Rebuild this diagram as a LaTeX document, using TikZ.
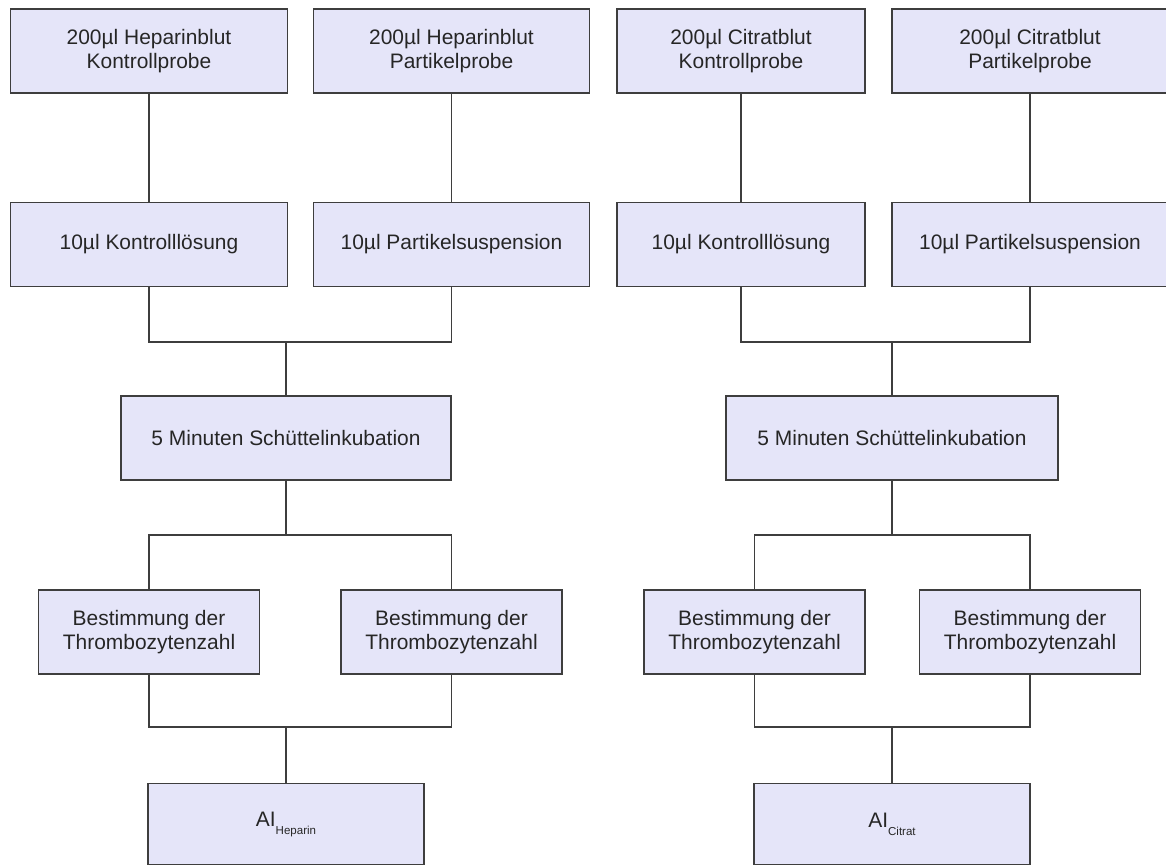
\documentclass[tikz,border=0pt]{standalone}
\usepackage{fontspec}
\setmainfont{Liberation Sans}
\definecolor{boxfill}{RGB}{229,229,249}
\definecolor{boxline}{RGB}{62,62,62}

\begin{document}
\begin{tikzpicture}
    [   x=0.025cm, y=-0.025cm,
        pbox/.style={draw=boxline,fill=boxfill,line width=1.2pt,minimum width=#1,minimum height=2.1cm,
                     inner sep=0pt,align=center,text=black!85,font=\fontsize{14.9}{17.1}\selectfont},
        link/.style={draw=boxline,line width=1.2pt},
    ]
        \useasboundingbox (0,0) rectangle (1166,866);

        % draw the nodes (heparin)
        \node[pbox=6.925cm] (hk) at (149,51.3) {200µl Heparinblut\\Kontrollprobe};
        \node[pbox=6.9cm] (hp) at (451.5,51.3) {200µl Heparinblut\\Partikelprobe};
        \node[pbox=6.925cm] (hkl) at (149,244.5) {10µl Kontrolllösung};
        \node[pbox=6.9cm] (hps) at (451.5,244.5) {10µl Partikelsuspension};
        \node[pbox=8.25cm] (hinc) at (286,438.3) {5 Minuten Schüttelinkubation};
        \node[pbox=5.525cm] (htk) at (149,632) {Bestimmung der\\Thrombozytenzahl};
        \node[pbox=5.525cm] (htp) at (451.5,632) {Bestimmung der\\Thrombozytenzahl};
        \node[pbox=6.9cm,minimum height=2.03cm] (hai) at (286,824) {AI\raisebox{-0.2cm}{\fontsize{8.2}{9}\selectfont Heparin}};

        % draw the nodes (citrat)
        \node[pbox=6.2cm] (ck) at (741,51.3) {200µl Citratblut\\Kontrollprobe};
        \node[pbox=6.9cm] (cp) at (1030,51.3) {200µl Citratblut\\Partikelprobe};
        \node[pbox=6.2cm] (ckl) at (741,244.5) {10µl Kontrolllösung};
        \node[pbox=6.9cm] (cps) at (1030,244.5) {10µl Partikelsuspension};
        \node[pbox=8.3cm] (cinc) at (892,438.3) {5 Minuten Schüttelinkubation};
        \node[pbox=5.525cm] (ctk) at (754.5,632) {Bestimmung der\\Thrombozytenzahl};
        \node[pbox=5.525cm] (ctp) at (1030,632) {Bestimmung der\\Thrombozytenzahl};
        \node[pbox=6.9cm,minimum height=2.03cm] (cai) at (892,824) {AI\raisebox{-0.2cm}{\fontsize{8.2}{9}\selectfont Citrat}};

        % joints
        \coordinate (hj1) at (286,341.7);
        \coordinate (hj2) at (286,535);
        \coordinate (hj3) at (286,727);
        \coordinate (cj1) at (892,341.7);
        \coordinate (cj2) at (892,535);
        \coordinate (cj3) at (892,727);

        % draw the lines
        \draw[link] (hk) -- (hkl);
        \draw[link] (hp) -- (hps);
        \draw[link] (hkl.south) |- (hj1) -| (hps.south);
        \draw[link] (hj1) -- (hinc);
        \draw[link] (htk.north) |- (hj2) -| (htp.north);
        \draw[link] (hinc) -- (hj2);
        \draw[link] (htk.south) |- (hj3) -| (htp.south);
        \draw[link] (hj3) -- (hai);

        \draw[link] (ck) -- (ckl);
        \draw[link] (cp) -- (cps);
        \draw[link] (ckl.south) |- (cj1) -| (cps.south);
        \draw[link] (cj1) -- (cinc);
        \draw[link] (ctk.north) |- (cj2) -| (ctp.north);
        \draw[link] (cinc) -- (cj2);
        \draw[link] (ctk.south) |- (cj3) -| (ctp.south);
        \draw[link] (cj3) -- (cai);
    \end{tikzpicture}
\end{document}
